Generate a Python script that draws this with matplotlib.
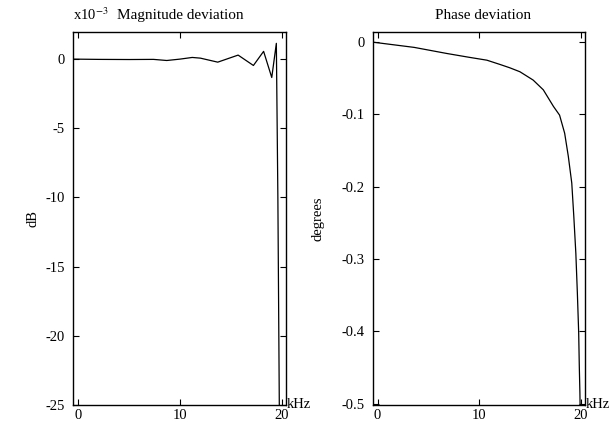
import matplotlib
matplotlib.use("Agg")
import matplotlib.pyplot as plt

plt.rc('font', family='Liberation Serif', size=10.5)
plt.rc('mathtext', fontset='stix')

# magnitude deviation, units of 1e-3 dB
mag_khz = [-0.5, 2.0, 5.0, 7.4, 8.7, 10.0, 11.2, 12.0, 13.7, 15.7, 17.2, 18.2,
           19.0, 19.45, 19.6, 19.75]
mag_dev = [0.0, -0.02, -0.03, -0.02, -0.1, 0.0, 0.12, 0.07, -0.22, 0.29, -0.46,
           0.56, -1.33, 1.14, -10.0, -26.0]

# phase deviation, degrees
ph_khz = [-0.5, 3.6, 6.8, 9.0, 10.75, 12.06, 13.0, 14.0, 15.3, 16.3, 17.3, 17.9,
          18.4, 18.76, 19.1, 19.3, 19.5, 19.65, 19.78, 19.84, 19.9, 19.95]
ph_dev = [0.0, -0.0073, -0.0157, -0.021, -0.025, -0.031, -0.0355, -0.041, -0.0525,
          -0.066, -0.089, -0.101, -0.126, -0.158, -0.195, -0.241, -0.292, -0.347,
          -0.402, -0.448, -0.485, -0.53]

xticks = [0, 10, 20]
mag_yticks = [0, -5, -10, -15, -20, -25]
ph_yticks = [0, -0.1, -0.2, -0.3, -0.4, -0.5]

fig = plt.figure(figsize=(6.13, 4.26), dpi=100)
ax1 = fig.add_axes([0.1191, 0.0493, 0.3475, 0.8756])
ax2 = fig.add_axes([0.6085, 0.0493, 0.3458, 0.8756])

ax1.plot(mag_khz, mag_dev, 'k', lw=0.9)
ax1.set_xlim(-0.5, 20.4)
ax1.set_ylim(-25, 1.96)
ax1.set_yticks(mag_yticks)
ax1.set_yticklabels([str(v) for v in mag_yticks])
ax1.set_ylabel("dB", labelpad=4)
ax1.set_title("Magnitude deviation", pad=9, fontsize=11, x=0.505)
ax1.text(0.0, 1.024, "x10$^{-3}$", transform=ax1.transAxes, ha='left', va='bottom',
         fontsize=10.5)

ax2.plot(ph_khz, ph_dev, 'k', lw=0.9)
ax2.set_xlim(-0.45, 20.4)
ax2.set_ylim(-0.502, 0.014)
ax2.set_yticks(ph_yticks)
ax2.set_yticklabels(["0", "-0.1", "-0.2", "-0.3", "-0.4", "-0.5"])
ax2.set_ylabel("degrees", labelpad=12)
ax2.set_title("Phase deviation", pad=9, fontsize=11, x=0.52)

for ax in (ax1, ax2):
    ax.set_xticks(xticks)
    ax.tick_params(direction='in', length=4, width=0.8, top=True, right=True, pad=3)
    ax.tick_params(axis='y', pad=6)
    for s in ax.spines.values():
        s.set_linewidth(1.0)
    ax.text(1.005, 0.0, "kHz", transform=ax.transAxes, ha='left', va='center')

fig.savefig("out.png", dpi=100)
